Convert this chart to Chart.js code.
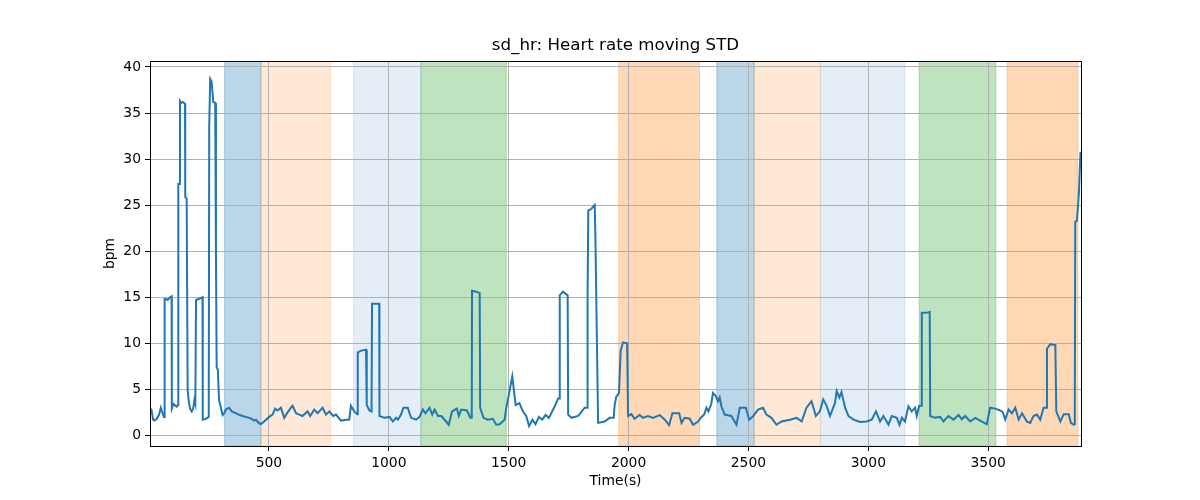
<!DOCTYPE html>
<html>
<head>
<meta charset="utf-8">
<title>sd_hr: Heart rate moving STD</title>
<script src="https://cdn.jsdelivr.net/npm/chart.js"></script>
<style>
    body { margin: 0; background: #fff; }
    #wrap { width: 1200px; height: 500px; }
</style>
</head>
<body>
<div id="wrap"><canvas id="hrChart" width="1200" height="500"></canvas></div>
<script>
// Series: time (s) and moving STD (bpm)
const times = [
    4, 10, 17, 22, 32, 42, 49, 55, 62, 64,
    65, 71, 78, 88, 94, 95, 102, 115, 120, 121,
    122, 126, 129, 134, 140, 150, 151, 157, 161, 165,
    171, 178, 184, 189, 193, 195, 196, 207, 223, 224,
    237, 249, 251, 255, 261, 268, 276, 279, 282, 287,
    292, 296, 307, 314, 320, 334, 345, 355, 369, 390,
    418, 430, 438, 446, 455, 466, 480, 501, 515, 526,
    536, 550, 564, 578, 592, 599, 613, 627, 640, 661,
    672, 689, 703, 724, 738, 752, 768, 780, 800, 821,
    835, 842, 856, 868, 870, 871, 885, 905, 908, 919,
    928, 929, 930, 960, 961, 982, 1003, 1017, 1031, 1038,
    1051, 1061, 1079, 1093, 1114, 1128, 1142, 1153, 1170, 1181,
    1191, 1205, 1219, 1239, 1250, 1264, 1284, 1292, 1302, 1326,
    1340, 1346, 1347, 1365, 1379, 1381, 1395, 1413, 1434, 1448,
    1462, 1483, 1490, 1497, 1515, 1529, 1545, 1559, 1573, 1585,
    1599, 1612, 1626, 1640, 1654, 1668, 1692, 1706, 1712, 1713,
    1726, 1746, 1748, 1762, 1790, 1817, 1828, 1829, 1832, 1845,
    1859, 1862, 1873, 1900, 1921, 1938, 1942, 1949, 1960, 1967,
    1977, 1994, 1998, 2012, 2025, 2046, 2060, 2081, 2102, 2130,
    2151, 2169, 2183, 2211, 2221, 2234, 2255, 2269, 2290, 2304,
    2315, 2325, 2333, 2345, 2352, 2363, 2373, 2380, 2387, 2401,
    2429, 2450, 2464, 2489, 2503, 2520, 2540, 2561, 2575, 2596,
    2617, 2638, 2673, 2701, 2722, 2742, 2763, 2781, 2798, 2812,
    2826, 2840, 2861, 2868, 2879, 2888, 2903, 2917, 2938, 2966,
    2993, 3014, 3032, 3049, 3063, 3084, 3098, 3119, 3130, 3140,
    3153, 3167, 3181, 3195, 3202, 3212, 3222, 3223, 3240, 3256,
    3258, 3278, 3300, 3313, 3334, 3355, 3376, 3390, 3404, 3425,
    3446, 3474, 3494, 3508, 3529, 3550, 3561, 3571, 3585, 3599,
    3613, 3627, 3641, 3661, 3675, 3689, 3703, 3717, 3731, 3743,
    3745, 3759, 3780, 3784, 3801, 3815, 3836, 3845, 3856, 3861,
    3863, 3870, 3878, 3885
];
const sdHr = [
    2.9, 2.8, 1.7, 1.6, 1.8, 2.25, 3.0, 2.5, 2.0, 2.0,
    14.8, 14.8, 14.7, 15.0, 15.1, 2.9, 3.4, 3.1, 3.3, 3.3,
    27.3, 27.3, 36.3, 36.1, 36.2, 36.0, 25.9, 25.7, 4.9, 3.8,
    2.9, 2.6, 2.9, 3.8, 3.4, 3.4, 14.7, 14.8, 15.0, 1.7,
    1.8, 2.0, 33.5, 38.7, 38.4, 36.2, 36.1, 20.0, 7.4, 7.1,
    3.8, 3.4, 2.2, 2.4, 2.8, 3.0, 2.6, 2.5, 2.3, 2.1,
    1.9, 1.75, 1.6, 1.7, 1.4, 1.2, 1.5, 2.0, 2.25, 2.9,
    2.7, 3.0, 1.9, 2.5, 3.0, 3.2, 2.4, 2.25, 2.1, 2.6,
    2.1, 2.8, 2.4, 3.0, 2.25, 2.6, 2.1, 2.25, 1.6, 1.7,
    1.7, 3.2, 2.6, 2.3, 2.3, 9.0, 9.2, 9.3, 3.3, 2.7,
    2.6, 2.6, 14.3, 14.3, 2.1, 1.9, 2.0, 1.5, 1.9, 1.7,
    2.25, 3.0, 3.0, 1.9, 1.7, 2.0, 2.8, 2.4, 3.0, 2.25,
    2.8, 2.1, 2.1, 1.5, 1.15, 2.6, 2.9, 2.1, 2.8, 2.7,
    1.9, 1.9, 15.7, 15.6, 15.45, 3.0, 1.9, 1.7, 1.8, 1.15,
    1.2, 1.7, 3.0, 3.9, 6.4, 3.3, 3.5, 2.6, 2.1, 1.0,
    1.7, 1.2, 2.0, 1.7, 2.2, 1.9, 3.15, 4.0, 4.0, 15.2,
    15.6, 15.2, 2.25, 1.9, 2.1, 3.0, 3.0, 14.7, 24.4, 24.6,
    25.0, 20.8, 1.35, 1.5, 1.9, 1.9, 3.3, 4.2, 4.6, 9.2,
    10.1, 10.0, 2.1, 2.3, 1.8, 2.2, 1.9, 2.1, 1.9, 2.2,
    1.7, 1.1, 2.4, 2.4, 1.35, 1.9, 1.8, 1.15, 1.5, 2.0,
    2.25, 3.0, 2.6, 3.4, 4.6, 4.3, 3.7, 4.1, 3.15, 2.25,
    2.1, 1.15, 3.0, 3.0, 1.7, 2.1, 2.8, 3.0, 2.25, 1.9,
    1.15, 1.5, 1.7, 1.9, 1.5, 3.0, 3.7, 2.1, 2.6, 3.9,
    3.2, 2.1, 3.5, 4.8, 4.1, 4.7, 3.0, 2.1, 1.7, 1.45,
    1.5, 1.7, 2.6, 1.5, 2.1, 1.15, 2.1, 1.9, 1.15, 1.9,
    1.5, 3.15, 2.6, 3.0, 2.1, 3.2, 3.2, 13.3, 13.3, 13.4,
    2.1, 1.9, 2.0, 1.5, 2.1, 1.7, 2.2, 1.75, 2.1, 1.5,
    1.9, 1.5, 1.2, 3.0, 2.9, 2.7, 2.5, 1.7, 2.8, 2.4,
    3.0, 1.7, 2.4, 1.5, 1.35, 2.1, 2.25, 1.7, 3.0, 3.0,
    9.4, 9.9, 9.8, 2.6, 1.5, 2.3, 2.3, 1.35, 1.15, 1.2,
    23.2, 23.3, 26.2, 30.8
];

// Shaded phases (start, end in seconds) and their kind
const spanStarts = [315, 467, 853, 1134, 1959, 2368, 2524, 2801, 3212, 3579];
const spanEnds   = [467, 759, 1134, 1490, 2296, 2524, 2800, 3153, 3532, 3874];
const spanKinds  = ['a', 'b', 'c', 'd', 'e', 'a', 'b', 'c', 'd', 'e'];

const xTicks = [500, 1000, 1500, 2000, 2500, 3000, 3500];
const yTicks = [0, 5, 10, 15, 20, 25, 30, 35, 40];

const kindColors = {
    a: 'rgba(31,119,180,0.3)',
    b: 'rgba(255,127,14,0.17)',
    c: 'rgba(70,130,200,0.14)',
    d: 'rgba(44,160,44,0.3)',
    e: 'rgba(255,127,14,0.3)'
};

const FONT = 'DejaVu Sans';

const spanPlugin = {
    id: 'spans',
    beforeDraw(chart) {
        const { ctx, chartArea, scales } = chart;
        ctx.save();
        ctx.beginPath();
        ctx.rect(chartArea.left, chartArea.top, chartArea.right - chartArea.left, chartArea.bottom - chartArea.top);
        ctx.clip();
        spanStarts.forEach((s, i) => {
            const x0 = scales.x.getPixelForValue(s);
            const x1 = scales.x.getPixelForValue(spanEnds[i]);
            ctx.fillStyle = kindColors[spanKinds[i]];
            ctx.strokeStyle = kindColors[spanKinds[i]];
            ctx.lineWidth = 1;
            ctx.fillRect(x0, chartArea.top, x1 - x0, chartArea.bottom - chartArea.top);
            ctx.strokeRect(x0, chartArea.top, x1 - x0, chartArea.bottom - chartArea.top);
        });
        ctx.restore();
    }
};

// black frame round the plot area, like the matplotlib spines
const framePlugin = {
    id: 'frame',
    afterDraw(chart) {
        const { ctx, chartArea } = chart;
        ctx.save();
        ctx.strokeStyle = '#000';
        ctx.lineWidth = 1;
        ctx.strokeRect(Math.round(chartArea.left) + 0.5, Math.round(chartArea.top) + 0.5,
            Math.round(chartArea.right - chartArea.left), Math.round(chartArea.bottom - chartArea.top));
        ctx.restore();
    }
};

const points = times.map((t, i) => ({ x: t, y: sdHr[i] }));

new Chart(document.getElementById('hrChart'), {
    type: 'line',
    data: {
        datasets: [{
            label: 'sd_hr',
            data: points,
            borderColor: '#1f77b4',
            borderWidth: 2,
            pointRadius: 0,
            tension: 0,
            fill: false
        }]
    },
    options: {
        responsive: false,
        animation: false,
        devicePixelRatio: 1,
        layout: { padding: { top: 36, right: 119, bottom: 0, left: 0 } },
        plugins: {
            legend: { display: false },
            tooltip: { enabled: false },
            title: {
                display: true,
                text: 'sd_hr: Heart rate moving STD',
                color: '#000',
                fullSize: false,
                font: { family: FONT, size: 16.67, weight: 'normal', lineHeight: 1.2 },
                padding: { top: 0, bottom: 5 }
            }
        },
        scales: {
            x: {
                type: 'linear',
                min: 4,
                max: 3887,
                afterBuildTicks: (s) => { s.ticks = xTicks.map(v => ({ value: v })); },
                afterFit: (s) => { s.height = 54; },
                border: { display: false },
                grid: { color: '#b0b0b0', lineWidth: 1, tickColor: '#000', tickLength: 5, tickWidth: 1 },
                ticks: { color: '#000', padding: 4, maxRotation: 0, autoSkip: false,
                         callback: (v) => String(v),
                         font: { family: FONT, size: 13.9 } },
                title: { display: true, text: 'Time(s)', color: '#000',
                         font: { family: FONT, size: 13.9 }, padding: { top: 0, bottom: 10 } }
            },
            y: {
                min: -1.16,
                max: 40.65,
                afterBuildTicks: (s) => { s.ticks = yTicks.map(v => ({ value: v })); },
                afterFit: (s) => { s.width = 150; },
                border: { display: false },
                grid: { color: '#b0b0b0', lineWidth: 1, tickColor: '#000', tickLength: 5, tickWidth: 1 },
                ticks: { color: '#000', padding: 4, callback: (v) => String(v),
                         font: { family: FONT, size: 13.9 } },
                title: { display: true, text: 'bpm', color: '#000',
                         font: { family: FONT, size: 13.9 }, padding: { top: 102, bottom: 0 } }
            }
        }
    },
    plugins: [spanPlugin, framePlugin]
});
</script>
</body>
</html>
